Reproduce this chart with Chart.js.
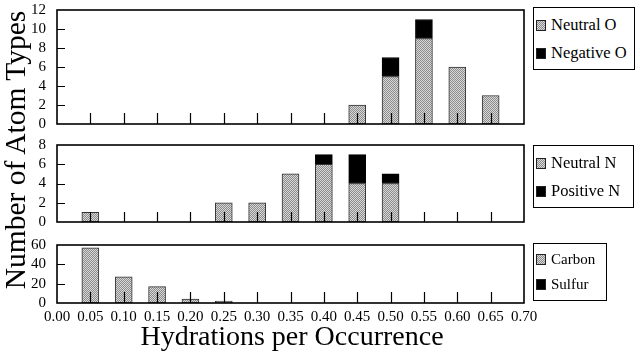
<!DOCTYPE html>
<html><head><meta charset="utf-8">
<script src="https://cdn.jsdelivr.net/npm/chart.js@4"></script>
<style>
body{margin:0;background:#fff;width:640px;height:357px;overflow:hidden;position:relative;font-family:'Liberation Serif','DejaVu Serif',serif;}
canvas{position:absolute;left:0;}
.legend{position:absolute;border:1.5px solid #000;box-sizing:border-box;background:#fff;font-family:'Liberation Serif','DejaVu Serif',serif;}
.row{position:absolute;left:2px;height:20px;display:flex;align-items:center;white-space:nowrap;color:#000;}
.sw{width:10px;height:11px;border:1px solid #222;box-sizing:border-box;margin-right:5px;}
.gray{background-color:#b3b3b3;background-image:conic-gradient(#8c8c8c 25%,#d8d8d8 0 50%,#8c8c8c 0 75%,#d8d8d8 0);background-size:2px 2px;}
.black{background:#000;}
.ytitle{position:absolute;left:-135px;top:135px;width:300px;height:30px;line-height:30px;text-align:center;font-size:29.5px;transform:rotate(-90deg);color:#000;white-space:nowrap;}
.xtitle{position:absolute;left:92px;top:321px;width:400px;height:30px;line-height:30px;text-align:center;font-size:28px;color:#000;white-space:nowrap;}
</style></head><body>
<canvas id="c1" width="640" height="155" style="top:-10px"></canvas>
<canvas id="c2" width="640" height="118" style="top:125px"></canvas>
<canvas id="c3" width="640" height="111" style="top:225px"></canvas>
<div class="ytitle">Number of Atom Types</div>
<div class="xtitle">Hydrations per Occurrence</div>
<div class="legend" style="left:533px;top:7px;width:102px;height:63px;font-size:16.5px;">
  <div class="row" style="top:7px"><div class="sw gray"></div>Neutral O</div>
  <div class="row" style="top:35px"><div class="sw black"></div>Negative O</div>
</div>
<div class="legend" style="left:533px;top:145px;width:101px;height:63px;font-size:16.5px;">
  <div class="row" style="top:7px"><div class="sw gray"></div>Neutral N</div>
  <div class="row" style="top:35px"><div class="sw black"></div>Positive N</div>
</div>
<div class="legend" style="left:533px;top:243px;width:74px;height:58px;font-size:15px;">
  <div class="row" style="top:5px"><div class="sw gray"></div>Carbon</div>
  <div class="row" style="top:30px"><div class="sw black"></div>Sulfur</div>
</div>
<script>
// ---- data ----
const categories = ['0.00','0.05','0.10','0.15','0.20','0.25','0.30','0.35','0.40','0.45','0.50','0.55','0.60','0.65','0.70'];
const neutralO   = [0,0,0,0,0,0,0,0,0,2,5,9,6,3,0];
const negativeO  = [0,0,0,0,0,0,0,0,0,0,2,2,0,0,0];
const neutralN   = [0,1,0,0,0,2,2,5,6,4,4,0,0,0,0];
const positiveN  = [0,0,0,0,0,0,0,0,1,3,1,0,0,0,0];
const carbon     = [0,57,27,17,4,2,0,0,0,0,0,0,0,0,0];
const sulfur     = [0,0,0,0,0,0,0,0,0,0,0,0,0,0,0];
const yTicksTop = {max:12, step:2};
const yTicksMid = {max:8, step:2};
const yTicksBot = {max:60, step:20};

function makePattern(){
  const c=document.createElement('canvas'); c.width=2; c.height=2;
  const g=c.getContext('2d');
  g.fillStyle='#d8d8d8'; g.fillRect(0,0,2,2);
  g.fillStyle='#8c8c8c'; g.fillRect(0,0,1,1); g.fillRect(1,1,1,1);
  return g.createPattern(c,'repeat');
}
const grayFill = makePattern();
const FONT = "'Liberation Serif','DejaVu Serif',serif";

const frame = {
  id:'frame',
  afterDatasetsDraw(chart, args, opts){
    const {ctx, chartArea:a, scales:{x,y}} = chart;
    ctx.save();
    ctx.strokeStyle='#000'; ctx.lineWidth=1.2;
    ctx.beginPath();
    for(let i=1;i<x.ticks.length-1;i++){
      const px=Math.round(x.getPixelForTick(i))+0.5;
      ctx.moveTo(px,a.bottom); ctx.lineTo(px,a.bottom-opts.xLen);
    }
    for(let i=1;i<y.ticks.length-1;i++){
      const py=Math.round(y.getPixelForTick(i))+0.5;
      ctx.moveTo(a.left,py); ctx.lineTo(a.left+opts.yLen,py);
    }
    ctx.stroke();
    ctx.lineWidth=1.6;
    ctx.strokeRect(a.left,a.top,a.right-a.left,a.bottom-a.top);
    ctx.restore();
  }
};

function panel(id, d1, d2, yt, padTop, xHeight, xLen, showX){
  new Chart(document.getElementById(id), {
    type:'bar',
    data:{labels:categories, datasets:[
      {data:d1, backgroundColor:grayFill, borderColor:'#333', borderWidth:1, barThickness:17, borderSkipped:false},
      {data:d2, backgroundColor:'#000', borderColor:'#000', borderWidth:1, barThickness:17, borderSkipped:false}
    ]},
    options:{
      responsive:false, animation:false, devicePixelRatio:1,
      layout:{padding:{top:padTop,right:116,bottom:0,left:0}},
      plugins:{legend:{display:false}, tooltip:{enabled:false}, frame:{xLen:xLen, yLen:8}},
      scales:{
        x:{type:'category', stacked:true, offset:false,
           grid:{display:false, drawTicks:false, offset:false}, border:{display:false},
           ticks:{display:showX, autoSkip:false, maxRotation:0, padding:5, color:'#000', font:{family:FONT,size:15}},
           afterFit(s){ s.height = xHeight; }},
        y:{stacked:true, min:0, max:yt.max,
           grid:{display:false, drawTicks:false}, border:{display:false},
           ticks:{stepSize:yt.step, autoSkip:false, padding:11, color:'#000', font:{family:FONT,size:15}},
           afterFit(s){ s.width = 57; }}
      }
    },
    plugins:[frame]
  });
}
panel('c1', neutralO, negativeO, yTicksTop, 17, 21, 11, false);
panel('c2', neutralN, positiveN, yTicksMid, 20, 21, 10, false);
panel('c3', carbon, sulfur, yTicksBot, 18, 33, 11, true);
</script>
</body></html>
